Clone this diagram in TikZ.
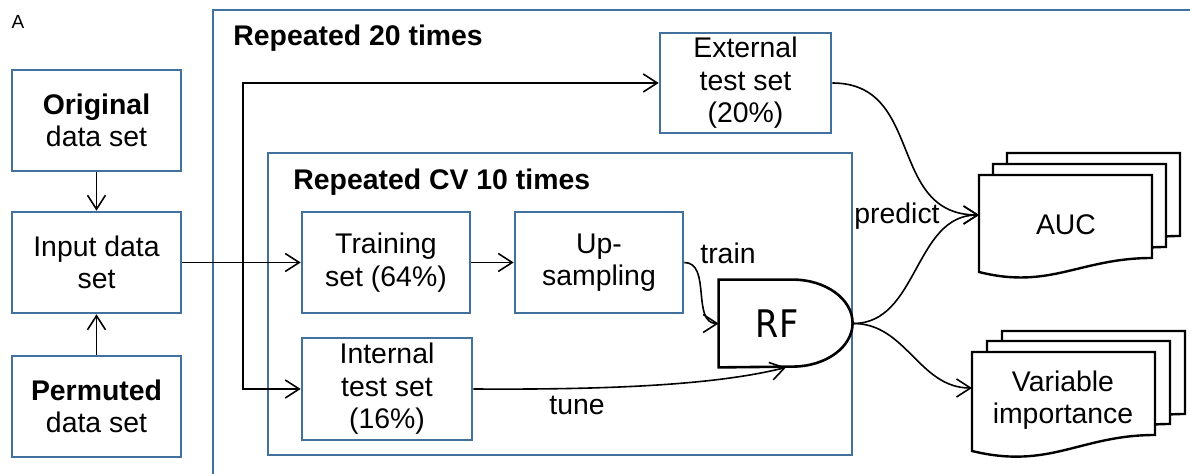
\documentclass[tikz,border=0pt]{standalone}
\usepackage{fontspec}
\setmainfont{Liberation Sans}
\newfontfamily\rffont[FakeStretch=0.88]{DejaVu Sans}
\usetikzlibrary{arrows.meta}

\definecolor{boxblue}{RGB}{65,113,156}

\begin{document}
\begin{tikzpicture}[x=0.5pt, y=-0.5pt, >={Straight Barb[length=7pt,width=9pt]},
    every node/.style={font=\fontsize{14.2pt}{16.3pt}\selectfont},
    box/.style={draw=boxblue, line width=1.3pt, align=center, inner sep=0pt},
    frame/.style={draw=boxblue, line width=1.3pt},
    title/.style={font=\fontsize{14.2pt}{16.3pt}\selectfont\bfseries, anchor=west, inner sep=0pt},
    flow/.style={->, line width=0.8pt},
    page/.style={draw, fill=white, line width=1.2pt}]
    \useasboundingbox (0,0) rectangle (1190,474);
    \clip (0,0) rectangle (1190,474);

    \node[font=\fontsize{9.5pt}{11pt}\selectfont] (panel) at (18,22) {A};

    % outer and inner loops
    \draw[frame] (213,10) rectangle (1230,500);
    \node[title] (rep outer) at (233,38) {Repeated 20 times};
    \draw[frame] (268,153) rectangle (852,455);
    \node[title] (rep cv) at (293,182) {Repeated CV 10 times};

    % data sets
    \node[box, minimum width=84.5pt, minimum height=50.5pt] at (96.5,120.5) (orig) {{\bfseries Original}\\data set};
    \node[box, minimum width=84.5pt, minimum height=50.5pt] at (96.5,262.5) (input) {Input data\\set};
    \node[box, minimum width=84.5pt, minimum height=50.5pt] at (96.5,406.5) (perm) {{\bfseries Permuted}\\data set};

    \node[box, minimum width=85.5pt, minimum height=50pt] at (745.5,83) (ext) {External\\test set\\(20\%)};
    \node[box, minimum width=84pt, minimum height=50.5pt] at (386,262.5) (train) {Training\\set (64\%)};
    \node[box, minimum width=84pt, minimum height=50.5pt] at (599,262.5) (ups) {Up-\\sampling};
    \node[box, minimum width=85pt, minimum height=51pt] at (387,389) (itest) {Internal\\test set\\(16\%)};

    % random forest
    \node[minimum width=67pt, minimum height=43.5pt, inner sep=0pt] at (786,323.5) (rf)
        {\fontsize{19pt}{22pt}\rffont RF\hspace*{9pt}};
    \draw[line width=1.3pt] (rf.north west) -- ++(74,0)
        arc[start angle=90, end angle=-90, x radius=30pt, y radius=21.75pt] -- (rf.south west) -- cycle;

    % result stacks
    \foreach \dx/\dy in {28/-22, 14/-11, 0/0}
    \draw[page, shift={(\dx,\dy)}] (979,175) -- (1152,175) -- (1152,258)
        .. controls (1080,258) and (1050,290) .. (979,272) -- cycle;
    \node (auc) at (1066,225) {AUC};
    \coordinate (auc in) at (979,215);

    \foreach \dx/\dy in {30/-21, 15/-11, 0/0}
    \draw[page, shift={(\dx,\dy)}] (972,352) -- (1155,352) -- (1155,435)
        .. controls (1080,435) and (1050,470) .. (972,451) -- cycle;
    \node[align=center] (vimp) at (1063,400) {Variable\\importance};
    \coordinate (vimp in) at (972,388);

    % connections
    \draw[flow] (orig) -- (input);
    \draw[flow] (perm) -- (input);
    \draw[flow] (input) -- (train);
    \coordinate (split) at (243,262.5);
    \draw[flow] (split) |- (ext);
    \draw[flow] (split) |- (itest);
    \draw[flow] (train) -- (ups);
    \draw[flow] (ups.east) to[out=0, in=180] (rf.west);
    \draw[flow] (itest.east) .. controls (620,390) and (720,384) .. (rf.south);
    \draw[flow] (ext.east) to[out=0, in=180, looseness=1.2] (auc in);
    \draw[flow] (rf.east) to[out=0, in=180] (auc in);
    \draw[flow] (rf.east) to[out=0, in=180] (vimp in);

    \node (train lbl) at (728,253) {train};
    \node (tune lbl) at (577,405) {tune};
    \node (predict lbl) at (897,216) {predict};
\end{tikzpicture}
\end{document}
